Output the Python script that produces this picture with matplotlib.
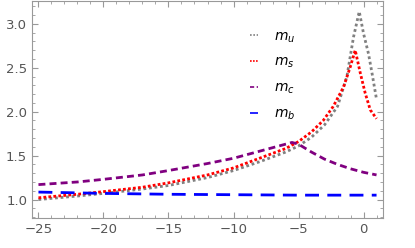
import matplotlib
matplotlib.use('Agg')
import matplotlib.pyplot as plt
from matplotlib.ticker import MultipleLocator

# values
x_u = [-25, -22, -20, -17, -15, -12, -10, -8, -6, -5, -4, -3, -2, -1.28, -1.02, -0.77, -0.33, 0, 0.38, 0.65, 1]
m_u = [1.00, 1.04, 1.07, 1.12, 1.16, 1.25, 1.33, 1.43, 1.54, 1.61, 1.71, 1.85, 2.06, 2.40, 2.63, 2.85, 3.14, 2.89, 2.66, 2.44, 2.14]

x_s = [-25, -22, -20, -17, -15, -12, -10, -8, -6, -5, -4, -3.1, -2.33, -1.54, -1.02, -0.64, -0.25, 0.13, 0.52, 1]
m_s = [1.02, 1.06, 1.09, 1.14, 1.19, 1.28, 1.36, 1.47, 1.58, 1.66, 1.77, 1.90, 2.06, 2.28, 2.51, 2.70, 2.44, 2.21, 2.02, 1.92]

x_c = [-25, -22, -20, -17, -15, -12, -10, -8, -7, -6, -5.5, -5, -4, -3, -2, -1, 0, 1]
m_c = [1.17, 1.20, 1.23, 1.28, 1.33, 1.41, 1.47, 1.55, 1.59, 1.63, 1.65, 1.63, 1.54, 1.46, 1.40, 1.35, 1.31, 1.28]

x_b = [-25, -20, -15, -10, -5, 0, 1]
m_b = [1.085, 1.07, 1.06, 1.055, 1.05, 1.05, 1.05]

fig = plt.figure(figsize=(4.15, 2.48), dpi=100)
ax = fig.add_axes([0.077, 0.121, 0.846, 0.875])

ax.plot(x_u, m_u, color='gray', lw=2.0, linestyle=(0, (1, 1)), label='$m_u$')
ax.plot(x_s, m_s, color='red', lw=2.0, linestyle=(0, (1, 0.8)), label='$m_s$')
ax.plot(x_c, m_c, color='purple', lw=2.0, linestyle=(0, (2.5, 1.5)), label='$m_c$')
ax.plot(x_b, m_b, color='blue', lw=2.0, linestyle=(0, (5, 3)), label='$m_b$')

ax.set_xlim(-25.5, 1.5)
ax.set_ylim(0.79, 3.26)
ax.xaxis.set_major_locator(MultipleLocator(5))
ax.xaxis.set_minor_locator(MultipleLocator(1))
ax.yaxis.set_major_locator(MultipleLocator(0.5))
ax.yaxis.set_minor_locator(MultipleLocator(0.1))
ax.tick_params(which='both', direction='in', top=True, right=True, color='#999999',
               labelcolor='#555555', labelsize=9.5)
ax.tick_params(which='major', length=4)
ax.tick_params(which='minor', length=2)
for s in ax.spines.values():
    s.set_color('#999999')
ax.xaxis.set_major_formatter(lambda t, pos: ('\u2212%d' % abs(t)) if t < 0 else '%d' % t)

leg = ax.legend(loc='upper left', bbox_to_anchor=(0.621, 0.87), frameon=False,
                handlelength=0.6, handletextpad=1.1, labelspacing=0.75, fontsize=10,
                borderpad=0, borderaxespad=0)
for h in leg.get_lines():
    h.set_linewidth(1.2)

fig.savefig('out.png', dpi=100)
